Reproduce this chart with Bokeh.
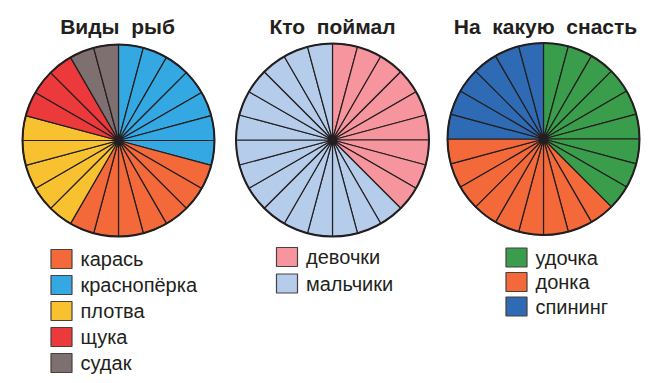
from bokeh.plotting import figure
from bokeh.models import Range1d, ColumnDataSource
from bokeh.core.properties import value
from bokeh.embed import file_html
from bokeh.resources import INLINE

# ---- data ----
titles = ["Виды\u00a0\u00a0рыб", "Кто\u00a0\u00a0поймал", "На\u00a0\u00a0какую\u00a0\u00a0снасть"]

fish_labels = ["карась", "краснопёрка", "плотва", "щука", "судак"]
fish_counts = [7, 7, 5, 3, 2]
fish_colors = ["#F3693A", "#34A8E2", "#F8C12F", "#EC3A3C", "#7E6F71"]
fish_pie_order = [1, 0, 2, 3, 4]  # clockwise from 12 o'clock

who_labels = ["девочки", "мальчики"]
who_counts = [9, 15]
who_colors = ["#F7959F", "#B5CCEB"]
who_pie_order = [0, 1]

gear_labels = ["удочка", "донка", "спининг"]
gear_counts = [9, 9, 6]
gear_colors = ["#3A9D4B", "#F3693A", "#2E6BB4"]
gear_pie_order = [0, 1, 2]

# ---- layout (page pixel coordinates) ----
W, H = 649, 375
PAGE_H = 383
def Y(y):
    return PAGE_H - y

pies = [
    dict(cx=118, cy=140, r=96, labels=fish_labels, counts=fish_counts, colors=fish_colors,
         order=fish_pie_order, tx=117, lx=61, ly0=258.5, dy=26),
    dict(cx=332, cy=139.5, r=96.5, labels=who_labels, counts=who_counts, colors=who_colors,
         order=who_pie_order, tx=332, lx=286.5, ly0=256.5, dy=26.5),
    dict(cx=543, cy=138.5, r=96, labels=gear_labels, counts=gear_counts, colors=gear_colors,
         order=gear_pie_order, tx=545, lx=516, ly0=257, dy=24.5),
]

p = figure(width=W, height=H, output_backend="svg", toolbar_location=None,
           x_range=Range1d(0, W), y_range=Range1d(Y(H), Y(0)),
           min_border=0, background_fill_color="white", border_fill_color="white")
p.axis.visible = False
p.grid.visible = False
p.outline_line_color = None

ink = "#231F20"

for i, pie in enumerate(pies):
    xs, ys, starts, ends, cols = [], [], [], [], []
    seg = 0
    for k in pie["order"]:
        for _ in range(pie["counts"][k]):
            a0 = 90 - 15 * seg
            a1 = 90 - 15 * (seg + 1)
            xs.append(pie["cx"]); ys.append(Y(pie["cy"]))
            starts.append(a0); ends.append(a1); cols.append(pie["colors"][k])
            seg += 1
    src = ColumnDataSource(dict(x=xs, y=ys, s=starts, e=ends, c=cols))
    p.wedge(x="x", y="y", radius=pie["r"], start_angle="s", end_angle="e",
            start_angle_units="deg", end_angle_units="deg", direction="clock",
            fill_color="c", line_color=ink, line_width=1.2, source=src)
    p.circle(x=[pie["cx"]], y=[Y(pie["cy"])], radius=pie["r"], fill_color=None,
             line_color=ink, line_width=2)
    p.circle(x=[pie["cx"]], y=[Y(pie["cy"])], radius=3.5, fill_color=ink, line_color=None)

    p.text(x=[pie["tx"]], y=[Y(25.5)], text=[titles[i]], text_align="center",
           text_baseline="alphabetic", text_font=value("Liberation Sans"),
           text_font_style="bold", text_font_size="21px", text_color=ink)

    n = len(pie["labels"])
    lys = [Y(pie["ly0"] + j * pie["dy"]) for j in range(n)]
    p.rect(x=[pie["lx"]] * n, y=lys, width=21, height=19, fill_color=pie["colors"],
           line_color="#4A3F3F", line_width=1.2)
    p.text(x=[pie["lx"] + 19] * n, y=lys, text=pie["labels"], text_align="left",
           text_baseline="middle", text_font=value("Liberation Sans"),
           text_font_size="20px", text_color=ink)

open("out.html", "w").write(file_html(p, INLINE))
